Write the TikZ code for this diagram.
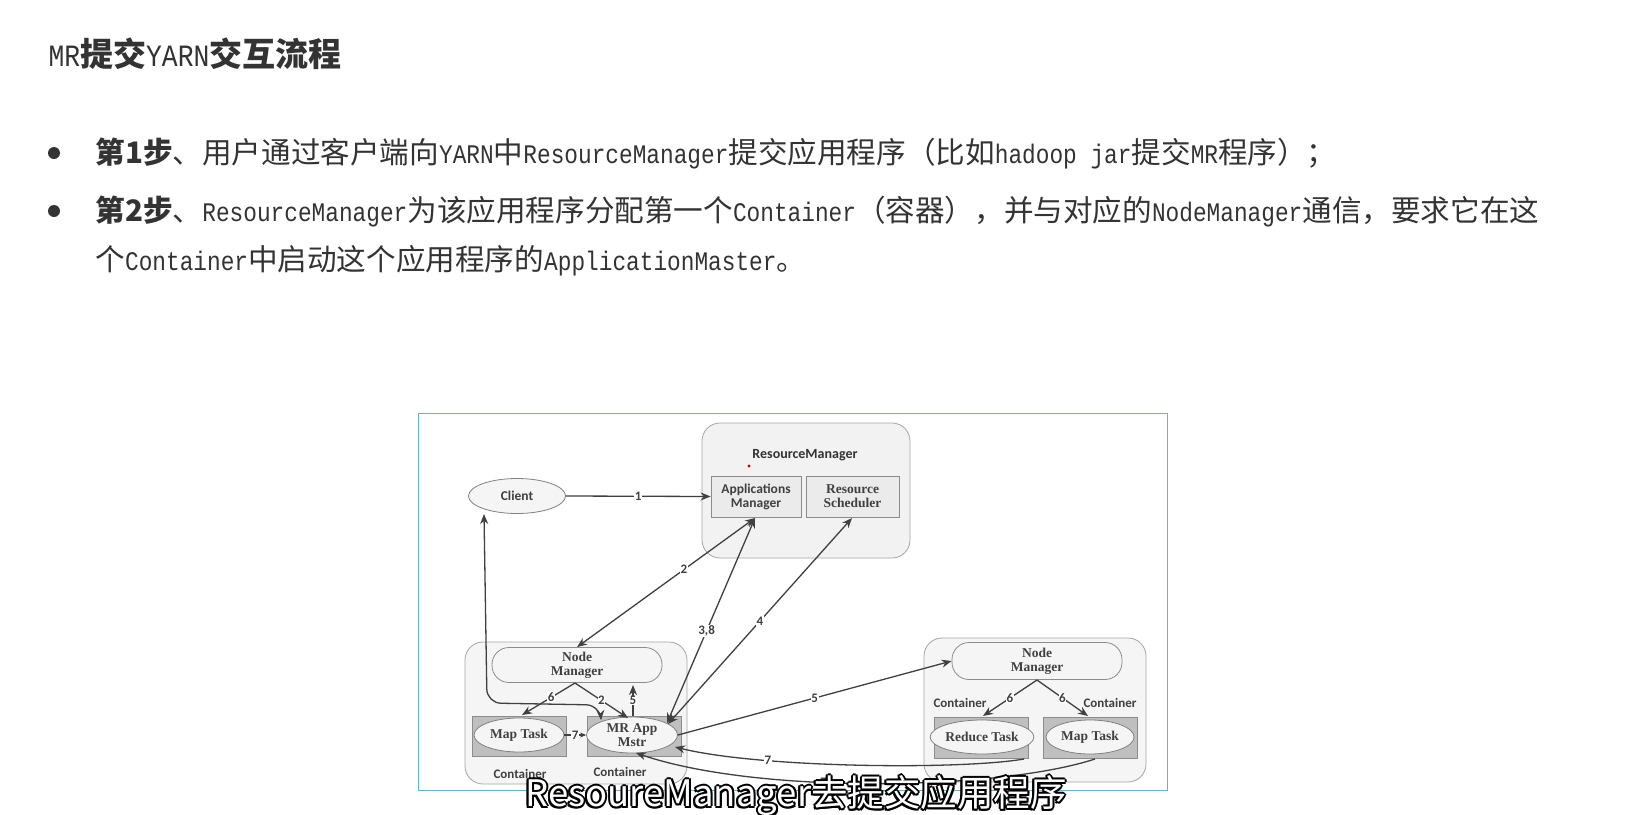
\documentclass[tikz,border=0pt]{standalone}
\usepackage{fontspec}
\setmainfont{Liberation Serif}
\newfontfamily\cjk{Noto Sans CJK SC}
\newfontfamily\monof[FakeStretch=0.85]{Liberation Mono}
\newfontfamily\calf{Carlito}
\usetikzlibrary{arrows.meta,shapes.geometric}
\newcommand\mm[1]{{\monof\fontsize{26.8}{26.8}\selectfont #1}}
\begin{document}
\begin{tikzpicture}[x=1pt,y=-1pt,
  ln/.style={draw=black!75,line width=1.3pt},
  arr/.style={ln,-{Stealth[length=10pt,width=8pt]}},
  darr/.style={ln,{Stealth[length=10pt,width=8pt]}-{Stealth[length=10pt,width=8pt]}},
  lab/.style={fill=white,inner sep=0.5pt,font=\calf\bfseries\fontsize{13}{13}\selectfont,text=black!75},
  cont/.style={draw=black!35,rounded corners=18pt,fill=black!4,line width=0.8pt},
  inbox/.style={draw=black!45,fill=black!8,line width=0.8pt},
  taskbox/.style={draw=black!45,fill=black!25,line width=0.8pt},
  ell/.style={ellipse,draw=black!50,fill=black!4,line width=0.8pt,font=\fontsize{13.5}{14}\selectfont\bfseries,text=black!75,align=center,inner sep=0pt},
  pill/.style={draw=black!45,fill=black!4,rounded corners=17pt,line width=0.8pt,font=\fontsize{13.5}{14}\selectfont\bfseries,text=black!75,align=center},
  ctl/.style={font=\calf\bfseries\fontsize{13}{13}\selectfont,text=black!75},
  btxt/.style={text=black!80,anchor=west,font=\cjk\fontsize{29.6}{29.6}\selectfont}]
\useasboundingbox (0,0) rectangle (1633,814);
\fill[white] (0,0) rectangle (1633,814);
% title and text
\node[anchor=west,text=black!80,font=\fontsize{33}{33}\selectfont] (title) at (45,54) {{\monof\fontsize{31}{31}\selectfont MR}{\cjk\bfseries 提交}{\monof\fontsize{31}{31}\selectfont YARN}{\cjk\bfseries 交互流程}};
\node[circle,fill=black!80,inner sep=0pt,minimum size=12pt] (b1) at (54,153) {};
\node[circle,fill=black!80,inner sep=0pt,minimum size=12pt] (b2) at (54,211) {};
\node[btxt] (t1) at (92,153) {{\bfseries 第1步}、用户通过客户端向\mm{YARN}中\mm{ResourceManager}提交应用程序（比如\mm{hadoop jar}提交\mm{MR}程序）；};
\node[btxt] (t2) at (92,211) {{\bfseries 第2步}、\mm{ResourceManager}为该应用程序分配第一个\mm{Container}（容器），并与对应的\mm{NodeManager}通信，要求它在这};
\node[btxt] (t3) at (92,261) {个\mm{Container}中启动这个应用程序的\mm{ApplicationMaster}。};
% frame
\node[draw=blue!45!black!50!cyan!60,line width=1pt,minimum width=749pt,minimum height=377pt,inner sep=0pt] (frame) at (792.5,601.5) {};
% RM
\draw[cont,fill=black!5] (702,423) rectangle (910,558);
\node[font=\calf\bfseries\fontsize{14}{14}\selectfont,text=black!80] (rmt) at (805,455) {ResourceManager};
\fill[red!80!black] (749,466) circle (1.6pt);
\node[inbox,minimum width=90pt,minimum height=41pt,align=center,font=\calf\bfseries\fontsize{13.5}{14}\selectfont,text=black!75,inner sep=0pt] (am) at (756,496.5) {Applications\\Manager};
\node[inbox,minimum width=93pt,minimum height=41pt,align=center,font=\bfseries\fontsize{13.5}{14}\selectfont,text=black!75,inner sep=0pt] (rs) at (852.5,496.5) {Resource\\Scheduler};
% client
\node[ell,minimum width=97pt,minimum height=35pt,font=\calf\bfseries\fontsize{13.5}{14}\selectfont] (client) at (517,496) {Client};
% left container
\draw[cont] (465,642) rectangle (687,784);
\node[pill,minimum width=170pt,minimum height=35pt,inner sep=0pt] (nm1) at (577,665) {Node\\Manager};
\node[taskbox,minimum width=94pt,minimum height=40pt] (mtb1) at (519,736) {};
\node[taskbox,minimum width=94pt,minimum height=40pt] (mrb) at (634,736) {};
\node[ell,minimum width=90pt,minimum height=34pt] (mt1) at (519,735) {Map Task};
\node[ell,minimum width=91pt,minimum height=36pt] (mr) at (632,735) {MR App\\Mstr};
\node[ctl] (c1) at (520,774) {Container};
\node[ctl] (c2) at (620,772) {Container};
% right container
\draw[cont] (924,638) rectangle (1146,782);
\node[pill,minimum width=170pt,minimum height=37pt,inner sep=0pt] (nm2) at (1037,661) {Node\\Manager};
\node[taskbox,minimum width=94pt,minimum height=41pt] (rtb) at (981,737.5) {};
\node[taskbox,minimum width=94pt,minimum height=41pt] (mtb2) at (1090,737.5) {};
\node[ell,minimum width=90pt,minimum height=34pt] (rt) at (982,737) {Reduce Task};
\node[ell,minimum width=88pt,minimum height=34pt] (mt2) at (1090,737) {Map Task};
\node[ctl] (c3) at (960,703) {Container};
\node[ctl] (c4) at (1110,703) {Container};
% connectors
\coordinate (nmb1) at (575,683);
\coordinate (amb) at (755,518);
\coordinate (rsb) at (852,518);
\coordinate (clb) at (484,514);
\coordinate (mrt) at (601,720);
\coordinate (nmb2) at (1037,680);
\draw[arr] (client.east) -- node[lab]{1} (am.west);
\draw[darr] (amb) -- node[lab,pos=0.4]{2} (nm1.north);
\draw[darr] (amb) -- node[lab,pos=0.55]{3,8} (667,723);
\draw[darr] (rsb) -- node[lab,pos=0.5]{4} (668,724);
\draw[arr] (mr.east) -- node[lab,pos=0.5]{5} (nm2.west);
\draw[arr] (nmb1) -- node[lab,pos=0.45]{6} (522,715);
\draw[arr] (nmb1) -- node[lab,pos=0.5]{2} (628,718);
\draw[arr] (633,716) -- node[lab,pos=0.5]{5} (633,685);
\draw[arr] (nmb2) -- node[lab,pos=0.5]{6} (983,716);
\draw[arr] (nmb2) -- node[lab,pos=0.5]{6} (1088,716);
\draw[darr,rounded corners=14pt] (clb) -- (487,703) -- (600,705) -- (mrt);
\draw[arr,-{Stealth[length=6pt,width=5pt]}] (mt1.east) -- node[lab]{7} (mr.west);
\coordinate (rtbb) at (1024,759);
\coordinate (mtbb) at (1095,759);
\draw[arr] (rtbb) .. controls (960,770) and (760,768) .. node[lab,pos=0.72]{7} (675,747);
\draw[arr] (mtbb) .. controls (1000,790) and (760,795) .. node[lab,pos=0.6]{7} (636,753);
% subtitle
\foreach \dx/\dy in {-2/0,2/0,0/-2,0/2,-1.5/-1.5,1.5/1.5,-1.5/1.5,1.5/-1.5}
  \node[font=\cjk\fontsize{36.5}{36.5}\selectfont,text=black] at (796+\dx,796+\dy) {ResoureManager去提交应用程序};
\node[font=\cjk\fontsize{36.5}{36.5}\selectfont,text=white] (sub) at (796,796) {ResoureManager去提交应用程序};
\end{tikzpicture}
\end{document}
